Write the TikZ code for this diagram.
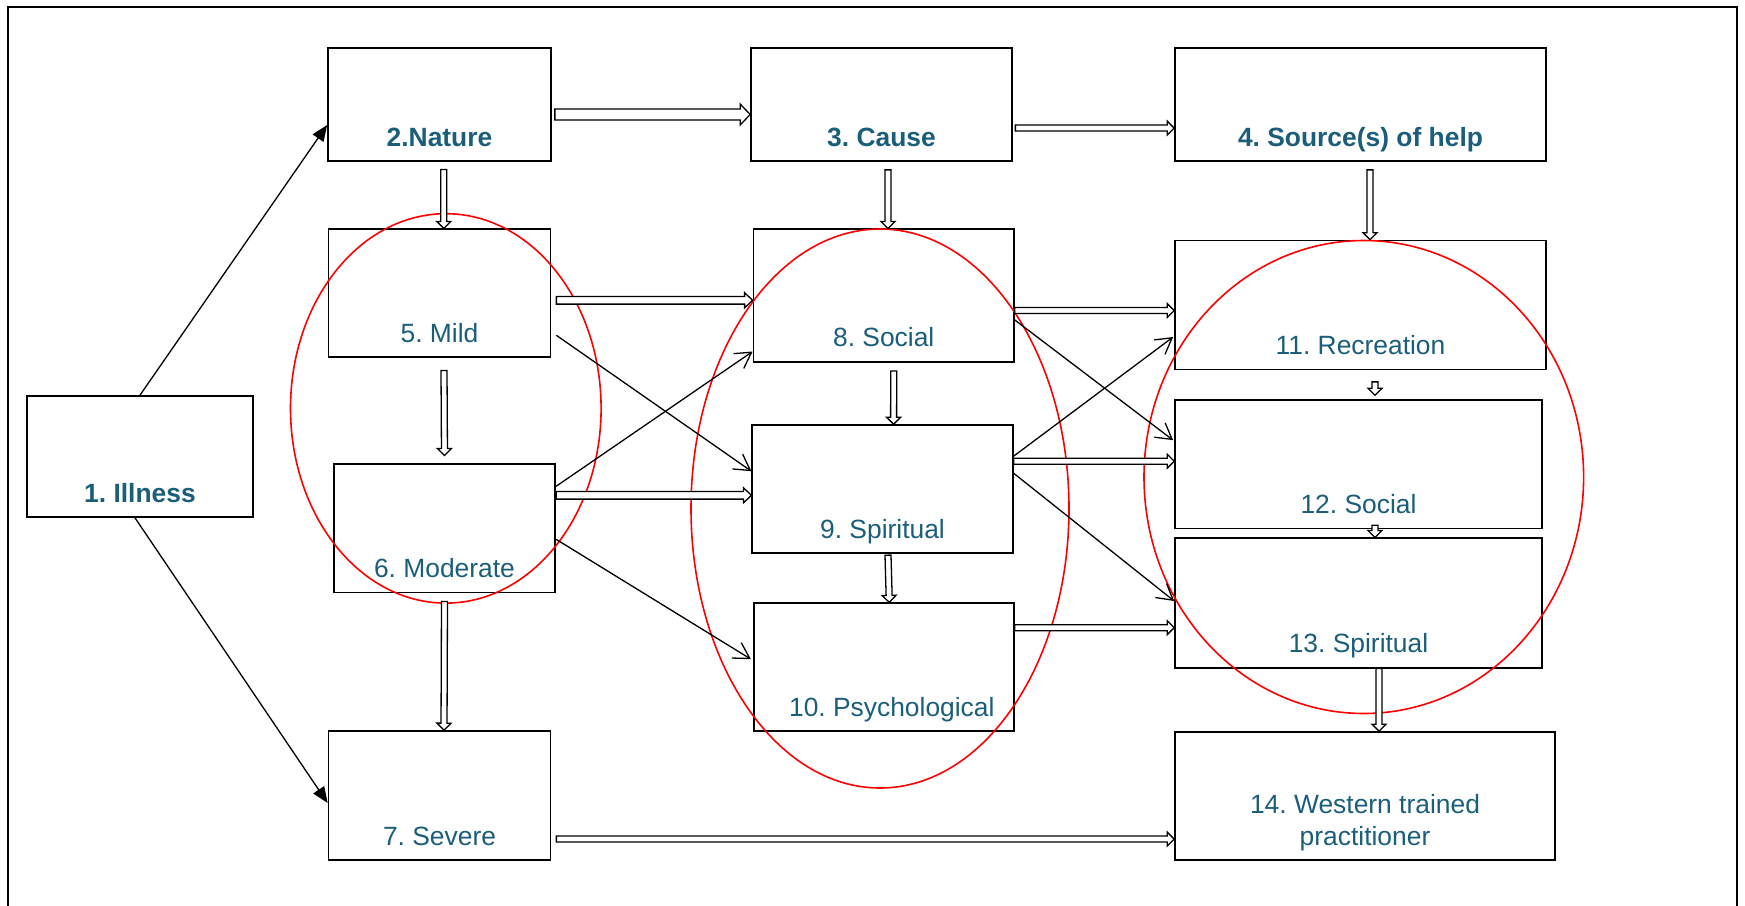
\documentclass[tikz,border=0pt]{standalone}
\usepackage{fontspec}
\setmainfont{Liberation Sans}
\usetikzlibrary{arrows.meta,calc}
\definecolor{labelteal}{RGB}{26,94,122}
\tikzset{
  bx/.style n args={2}{draw, line width=0.85pt, inner sep=0pt, text=labelteal,
    font=\fontsize{13.2}{16}\selectfont\frenchspacing, minimum width=#1, text height=#2, text depth=7.5pt},
  hdr/.style={font=\fontsize{13.2}{16}\selectfont\bfseries\frenchspacing},
  ln/.style={line width=0.65pt},
  vh/.style={ln, -{Straight Barb[length=7.8pt,width=9pt]}},
  fh/.style={ln, -{Triangle[length=8pt,width=6.5pt]}},
  dbl/.style n args={3}{ln, fill=white, to path={
    ($(\tikztostart)!#1!90:(\tikztotarget)$)
    -- ($($(\tikztotarget)!#3!(\tikztostart)$)!#1!-90:(\tikztostart)$)
    -- ($($(\tikztotarget)!#3!(\tikztostart)$)!#2!-90:(\tikztostart)$)
    -- (\tikztotarget)
    -- ($($(\tikztotarget)!#3!(\tikztostart)$)!#2!90:(\tikztostart)$)
    -- ($($(\tikztotarget)!#3!(\tikztostart)$)!#1!90:(\tikztostart)$)
    -- ($(\tikztostart)!#1!-90:(\tikztotarget)$)
    -- cycle}},
  thin/.style={dbl={1.5pt}{3.5pt}{3.5pt}},
  med/.style={dbl={1.9pt}{3.8pt}{4pt}},
  thick/.style={dbl={2.75pt}{5.25pt}{5pt}},
  oval/.style={draw=red, line width=0.8pt},
}
\begin{document}
\begin{tikzpicture}[x=0.5pt,y=-0.5pt]
\useasboundingbox (0,0) rectangle (1745,905);
% frame
\draw[line width=1pt] (8,912) -- (8,6.5) -- (1737,6.5) -- (1737,912);
% boxes
\node[bx={113pt}{53pt}, hdr] (n1) at (140,456.5) {1. Illness};
\node[bx={111.5pt}{49pt}, hdr] (n2) at (439.5,104.5) {2.Nature};
\node[bx={130.5pt}{49pt}, hdr] (n3) at (881.5,104.5) {3. Cause};
\node[bx={185.5pt}{49pt}, hdr] (n4) at (1360.5,104.5) {4. Source(s) of help};
\node[bx={111pt}{56.5pt}] (n5) at (439.5,293.3) {5. Mild};
\node[bx={110.75pt}{56.75pt}] (n6) at (444.5,528.3) {6. Moderate};
\node[bx={111pt}{57pt}] (n7) at (439.5,795.5) {7. Severe};
\node[bx={130.25pt}{58.7pt}] (n8) at (883.7,295.5) {8. Social};
\node[bx={130.25pt}{56.6pt}] (n9) at (882.5,489.2) {9. Spiritual};
\node[bx={130pt}{56.5pt}] (n10) at (883.8,667.2) {\hspace*{8pt}10. Psychological};
\node[bx={185.5pt}{57pt}] (n11) at (1360.5,305) {11. Recreation};
\node[bx={183.5pt}{56.65pt}] (n12) at (1358.5,464.2) {12. Social};
\node[bx={183.5pt}{57.2pt}] (n13) at (1358.5,603) {13. Spiritual};
\node[bx={190pt}{56.5pt}] (n14) at (1365,796) {\begin{tabular}[b]{@{}c@{}}14. Western trained\\practitioner\end{tabular}};
% red ovals
\draw[oval] (445.8,408.4) ellipse [x radius=77.65pt, y radius=97.35pt];
\draw[oval] (880,508.5) ellipse [x radius=94.5pt, y radius=139.75pt];
\draw[oval] (1363.8,477) ellipse [x radius=109.9pt, y radius=118.25pt];
% single arrows
\draw[fh] (n1.north) -- ($(n2.west)+(0,20.5)$);
\draw[fh] ($(n1.south)+(-5,0)$) -- ($(n7.west)+(0,7.5)$);
\draw[vh] ($(n5.east)+(5,42)$) -- ($(n9.west)+(0,-18)$);
\draw[vh] ($(n6.east)+(0,-42)$) -- ($(n8.west)+(0,56)$);
\draw[vh] ($(n6.east)+(0,11)$) -- ($(n10.west)+(-2,-8)$);
\draw[vh] ($(n8.east)+(0,24.5)$) -- ($(n12.west)+(-1,-24)$);
\draw[vh] ($(n9.east)+(0,-33)$) -- ($(n11.west)+(-1,32)$);
\draw[vh] ($(n9.east)+(0,-16)$) -- ($(n13.west)+(0,-2)$);
% double arrows
\draw[thick] ($(n2.east)+(3,10)$) to ($(n3.west)+(0,10)$);
\draw[thin] ($(n3.east)+(2.5,23.5)$) to ($(n4.west)+(0,23.5)$);
\draw[med] ($(n5.east)+(5,7)$) to ($(n8.west)+(0,4.8)$);
\draw[med] ($(n6.east)+(0,-33)$) to ($(n9.west)+(0,6.1)$);
\draw[thin] ($(n8.east)+(0,15)$) to ($(n11.west)+(0,5.5)$);
\draw[thin] ($(n9.east)+(0,-28)$) to ($(n12.west)+(0,-3)$);
\draw[thin] ($(n10.east)+(0,-39.5)$) to ($(n13.west)+(0,24.7)$);
\draw[thin] ($(n7.east)+(5,43.5)$) to ($(n14.west)+(0,43)$);
\draw[thin] ($(n2.south)+(4.3,7.7)$) to ($(n5.north)+(4.3,0)$);
\draw[thin] ($(n5.south)+(4.5,12.3)$) to ($(n6.north)+(0,-7.7)$);
\draw[thin] ($(n6.south)+(0,8)$) to ($(n7.north)+(4.5,0)$);
\draw[thin] ($(n3.south)+(6.5,8)$) to ($(n8.north)+(4.3,0)$);
\draw[thin] ($(n8.south)+(10,8.5)$) to ($(n9.north)+(11.1,0)$);
\draw[thin] ($(n9.south)+(5.5,1)$) to ($(n10.north)+(5.5,0)$);
\draw[thin] ($(n4.south)+(9.5,8)$) to ($(n11.north)+(9.5,0)$);
\draw[thin] ($(n11.south)+(14.5,11.5)$) to ($(n12.north)+(16.5,-4)$);
\draw[thin] ($(n12.south)+(16.5,-4)$) to ($(n13.north)+(16.5,0)$);
\draw[thin] ($(n13.south)+(20.5,0)$) to ($(n14.north)+(14,0)$);
\end{tikzpicture}
\end{document}
